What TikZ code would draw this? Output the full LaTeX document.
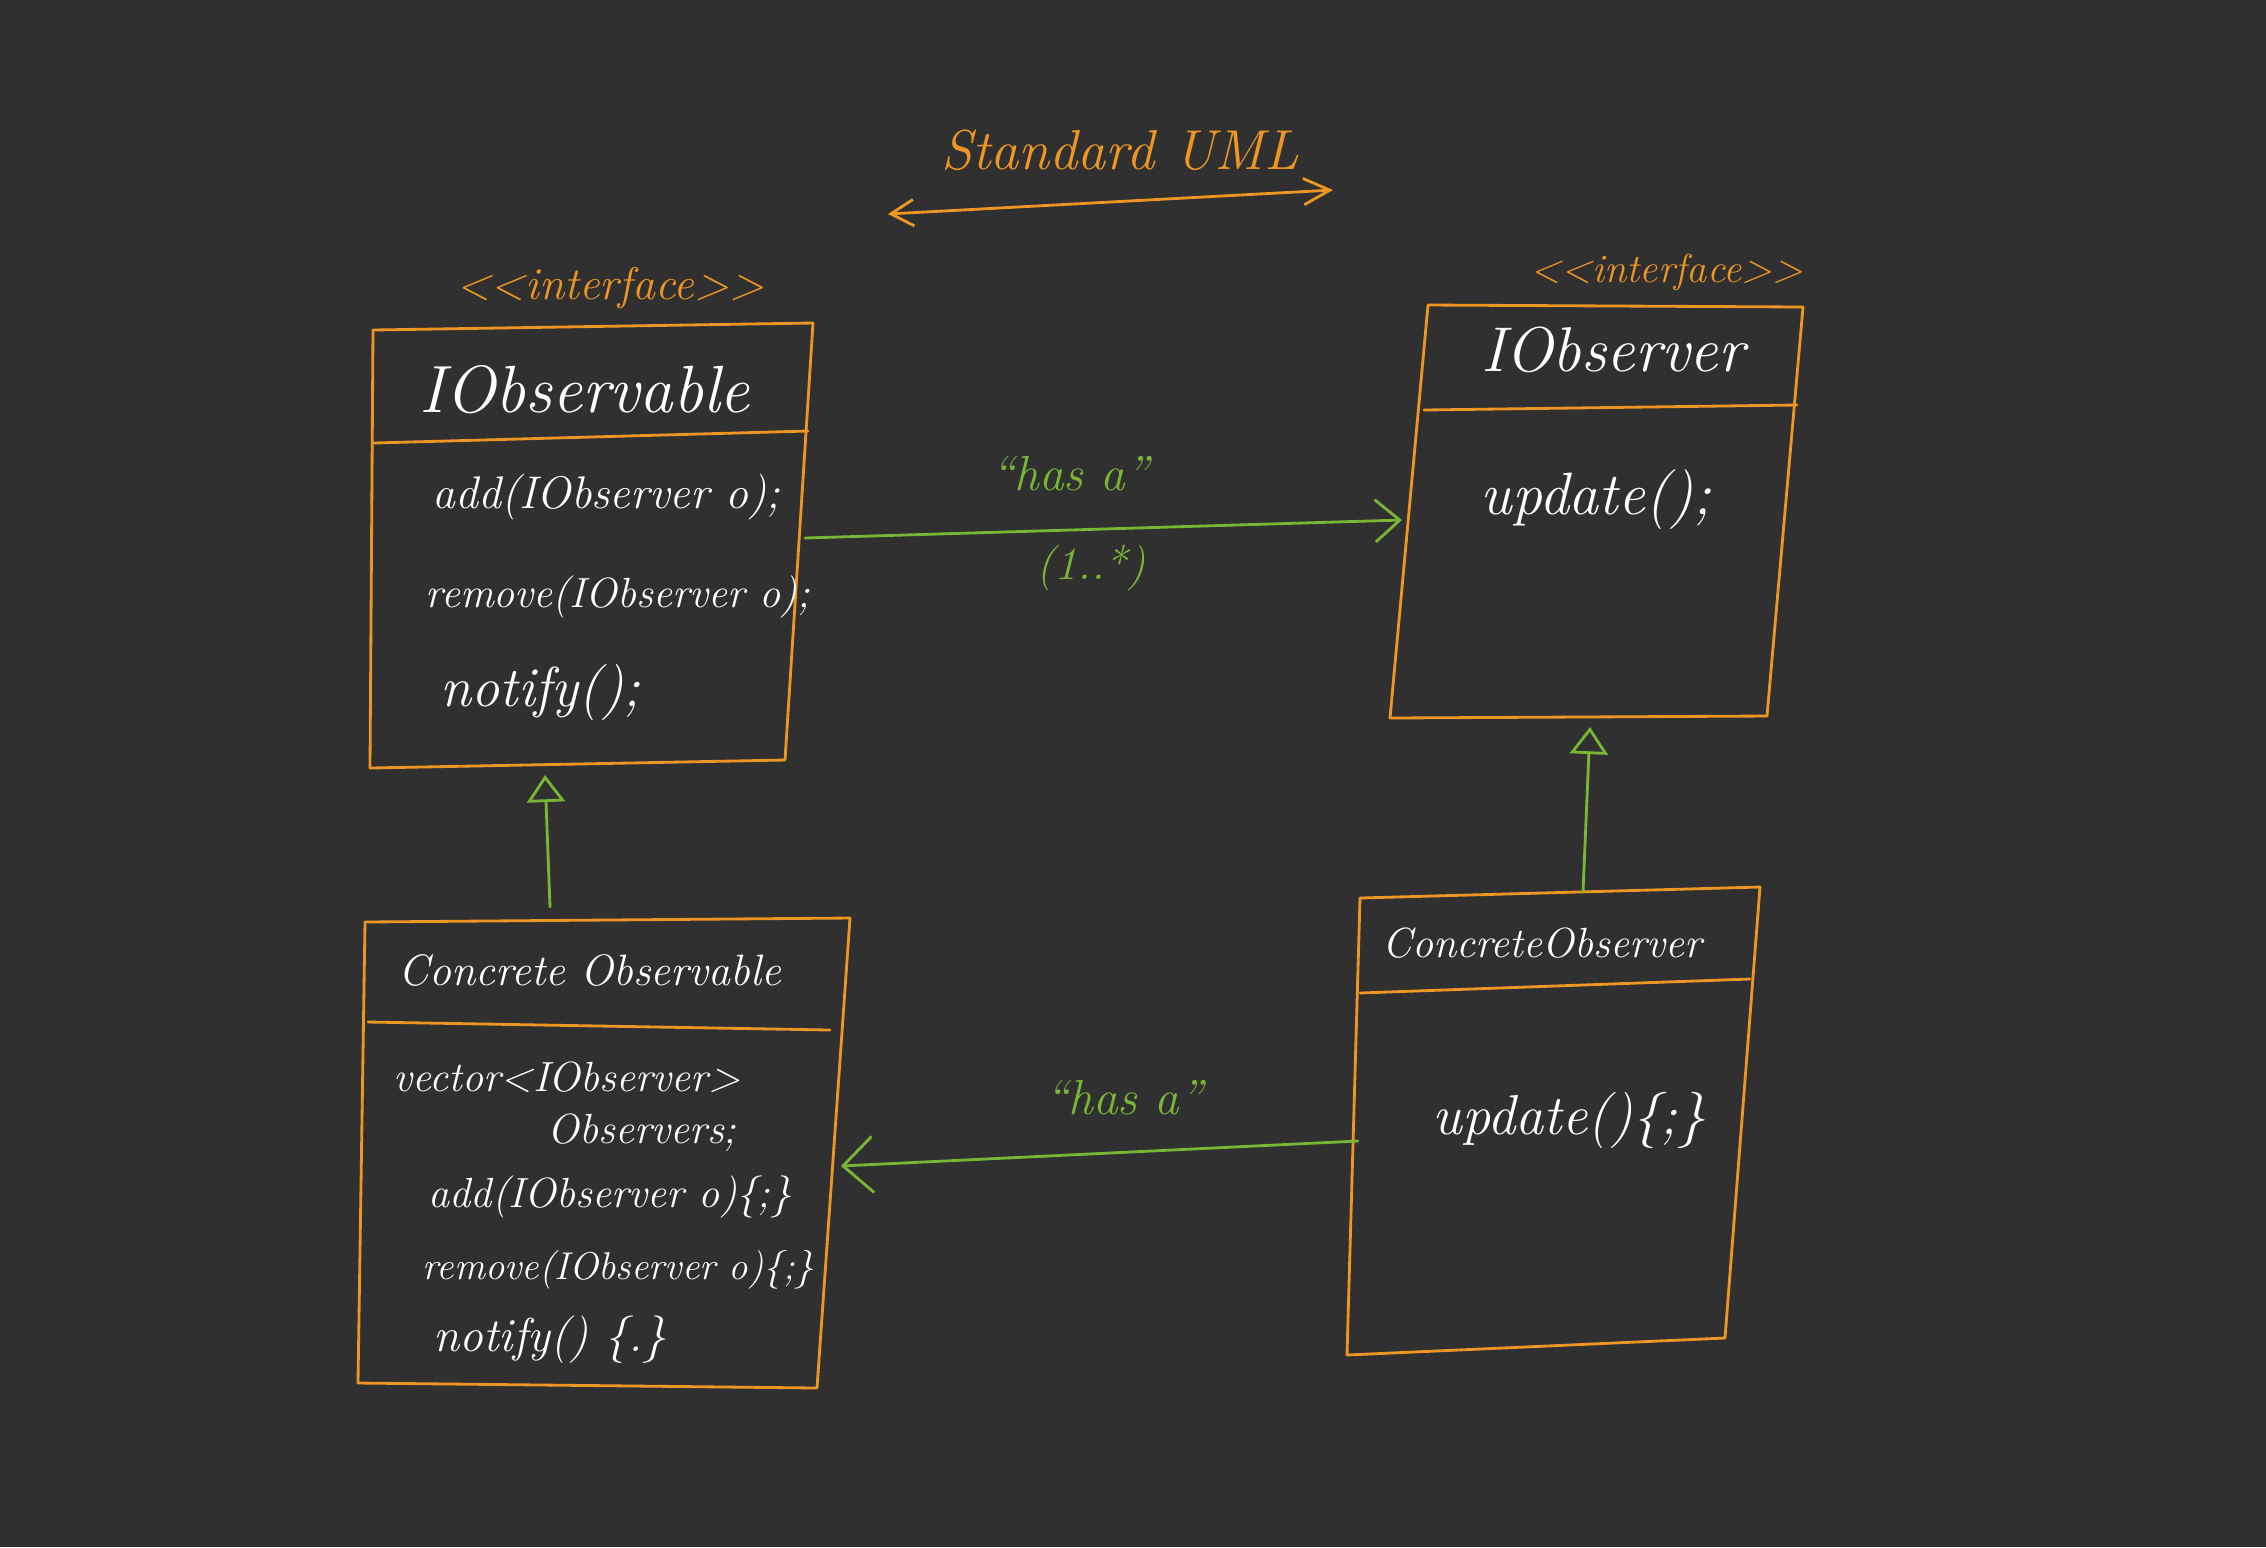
\documentclass[tikz,border=0pt]{standalone}
\usepackage{fontspec}
\usetikzlibrary{arrows.meta,calc}
\definecolor{bg}{RGB}{48,48,48}
\definecolor{uorange}{RGB}{238,150,36}
\definecolor{ugreen}{RGB}{120,182,54}
\newcommand\hfs[1]{\fontsize{#1}{#1}\selectfont}
\begin{document}
\begin{tikzpicture}[x=0.01cm,y=-0.01cm,
  box/.style={draw=uorange,line width=0.8pt,line join=round,line cap=round},
  txt/.style={text=white,inner sep=0pt,font=\itshape\hfs{#1}},
  lbl/.style={text=uorange,inner sep=0pt,font=\itshape\hfs{#1}},
  glbl/.style={text=ugreen,inner sep=0pt,font=\itshape\hfs{#1}},
  assoc/.style={draw=ugreen,line width=0.8pt,line cap=round},
  inh/.style={draw=ugreen,line width=0.8pt,line cap=round,line join=round,-{Triangle[open,length=7.7pt,width=10.8pt]}},
  tline/.style={draw=uorange,line width=0.8pt,line cap=round},
]
\fill[bg] (0,0) rectangle (2266,1547);
\useasboundingbox (0,0) rectangle (2266,1547);

% title
\node[lbl=16] (title) at (1120,150) {Standard UML};
\coordinate (tl) at (888,214);
\coordinate (tr) at (1333,190);
\draw[tline,{Straight Barb[length=6.5pt,width=7.5pt]}-{Straight Barb[length=7.5pt,width=7.5pt]}] (tl) -- (tr);

% box A: IObservable
\coordinate (aTL) at (373,330); \coordinate (aTR) at (813,323);
\coordinate (aBR) at (785,760); \coordinate (aBL) at (370,768);
\coordinate (aDL) at (374,443); \coordinate (aDR) at (808,431);
\draw[box] (aTL) -- (aTR) -- (aBR) -- (aBL) -- cycle;
\draw[box] (aDL) -- (aDR);
\node[lbl=13] (aster) at (610,288) {<{}<interface>{}>};
\node[txt=19] (aname) at (585,390) {IObservable};
\node[txt=13,anchor=west] (aadd) at (432,497) {add(IObserver o);};
\node[txt=12,anchor=west] (arem) at (425,597) {remove(IObserver o);};
\node[txt=16,anchor=west] (anot) at (440,692) {notify();};

% box B: IObserver
\coordinate (bTL) at (1428,305); \coordinate (bTR) at (1803,307);
\coordinate (bBR) at (1767,716); \coordinate (bBL) at (1390,718);
\coordinate (bDL) at (1424,410); \coordinate (bDR) at (1797,405);
\draw[box] (bTL) -- (bTR) -- (bBR) -- (bBL) -- cycle;
\draw[box] (bDL) -- (bDR);
\node[lbl=11.5] (bster) at (1667,272) {<{}<interface>{}>};
\node[txt=18] (bname) at (1613,350) {IObserver};
\node[txt=17,anchor=west] (bupd) at (1480,500) {update();};

% box C: Concrete Observable
\coordinate (cTL) at (365,922); \coordinate (cTR) at (850,918);
\coordinate (cBR) at (817,1388); \coordinate (cBL) at (358,1383);
\coordinate (cDL) at (368,1022); \coordinate (cDR) at (830,1030);
\draw[box] (cTL) -- (cTR) -- (cBR) -- (cBL) -- cycle;
\draw[box] (cDL) -- (cDR);
\node[txt=12.5] (cname) at (590,970) {Concrete Observable};
\node[txt=12,anchor=west] (cvec) at (393,1077) {vector<IObserver>};
\node[txt=12,anchor=west] (cobs) at (547,1133) {Observers;};
\node[txt=12,anchor=west] (cadd) at (428,1197) {add(IObserver o)\{;\}};
\node[txt=11,anchor=west] (crem) at (422,1270) {remove(IObserver o)\{;\}};
\node[txt=13.5,anchor=west] (cnot) at (433,1340) {notify() \{.\}};

% box D: ConcreteObserver
\coordinate (dTL) at (1360,898); \coordinate (dTR) at (1760,887);
\coordinate (dBR) at (1725,1338); \coordinate (dBL) at (1347,1355);
\coordinate (dDL) at (1360,993); \coordinate (dDR) at (1750,979);
\draw[box] (dTL) -- (dTR) -- (dBR) -- (dBL) -- cycle;
\draw[box] (dDL) -- (dDR);
\node[txt=12,anchor=west] (dname) at (1382,943) {ConcreteObserver};
\node[txt=16,anchor=west] (dupd) at (1432,1120) {update()\{;\}};

% associations
\coordinate (aR) at (805,538); \coordinate (bL) at (1402,520);
\draw[assoc,-{Straight Barb[length=7pt,width=12pt]}] (aR) -- (bL);
\node[glbl=14] (has1) at (1070,474) {“has a”};
\node[glbl=13] (mult) at (1091,568) {(1..*)};

\coordinate (dL) at (1358,1141); \coordinate (cR) at (841,1166);
\draw[assoc,-{Straight Barb[length=8.5pt,width=16pt]}] (dL) -- (cR);
\node[glbl=14] (has2) at (1124,1098) {“has a”};

% inheritance
\coordinate (cT) at (550,907); \coordinate (aB) at (545,775);
\draw[inh] (cT) -- (aB);
\coordinate (dT) at (1583,892); \coordinate (bB) at (1590,727);
\draw[inh] (dT) -- (bB);
\end{tikzpicture}
\end{document}
